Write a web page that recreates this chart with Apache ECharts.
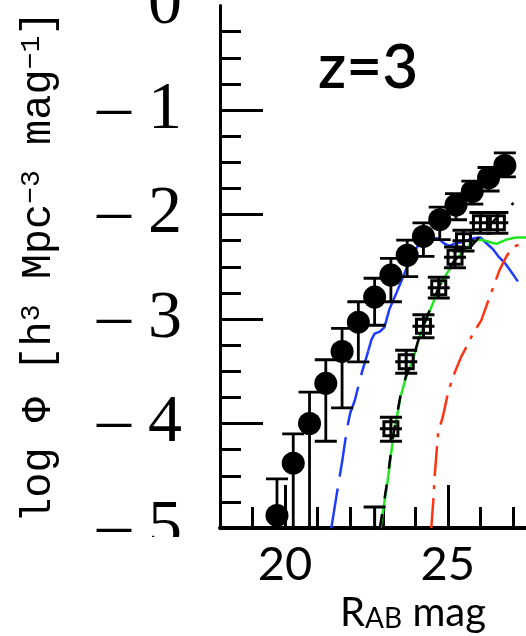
<!DOCTYPE html>
<html>
<head>
<meta charset="utf-8">
<script src="https://cdn.jsdelivr.net/npm/echarts@6.0.0/dist/echarts.min.js"></script>
<style>
  html, body { margin: 0; padding: 0; background: #fff; }
  #lf { width: 526px; height: 636px; }
</style>
</head>
<body>
<div id="lf"></div>
<script>
// 实心圆点：观测光度函数 (R 星等, log Φ, 误差上下限)
var circleMag = [19.75, 20.25, 20.75, 21.25, 21.75, 22.25, 22.75, 23.25, 23.75, 24.25, 24.75, 25.25, 25.75, 26.25, 26.75];
var circleLogPhi = [-4.88, -4.38, -4.00, -3.615, -3.31, -3.03, -2.79, -2.58, -2.39, -2.21, -2.05, -1.91, -1.78, -1.65, -1.53];
var circleErrHi = [-4.53, -4.10, -3.70, -3.39, -3.09, -2.835, -2.61, -2.42, -2.245, -2.08, -1.93, -1.80, -1.68, -1.55, -1.41];
var circleErrLo = [-5.6, -5.6, -5.6, -4.17, -3.85, -3.41, -3.06, -2.835, -2.595, -2.40, -2.24, -2.05, -1.90, -1.775, -1.64];

// 方块点
var squareMag = [22.75, 23.25, 23.72, 24.25, 24.72, 25.22, 25.48, 26.0, 26.52];
var squareLogPhi = [-5.3, -4.05, -3.41, -3.07, -2.70, -2.41, -2.25, -2.08, -2.08];
var squareErrHi = [-4.80, -3.94, -3.30, -2.96, -2.60, -2.31, -2.15, -1.98, -1.98];
var squareErrLo = [-5.8, -4.17, -3.52, -3.18, -2.80, -2.51, -2.35, -2.18, -2.18];

// 模型曲线 [R, log Φ]
var blueLow = [[21.42, -5.0], [21.6, -4.65], [21.76, -4.35], [21.9, -4.05], [22.0, -3.90], [22.14, -3.78], [22.35, -3.52], [22.55, -3.31]];
var blueHigh = [[22.55, -3.31], [22.65, -3.20], [22.75, -3.14], [22.91, -3.12], [23.05, -3.08], [23.2, -2.91], [23.42, -2.75], [23.62, -2.60], [23.83, -2.44], [24.13, -2.27], [24.44, -2.22], [24.7, -2.23], [24.9, -2.28], [25.05, -2.30], [25.21, -2.28], [25.46, -2.26], [25.77, -2.23], [26.0, -2.22], [26.2, -2.28], [26.38, -2.33], [26.55, -2.40], [26.74, -2.46], [26.95, -2.55], [27.15, -2.64]];
var greenLine = [[22.93, -5.0], [23.15, -4.55], [23.32, -4.13], [23.55, -3.74], [23.72, -3.55], [23.93, -3.39], [24.13, -3.17], [24.34, -3.0], [24.54, -2.85], [24.75, -2.68], [25.0, -2.55], [25.2, -2.44], [25.46, -2.36], [25.7, -2.28], [25.93, -2.24], [26.15, -2.25], [26.35, -2.27], [26.5, -2.28], [26.8, -2.24], [27.1, -2.22], [27.4, -2.22]];
var blackLine = [[22.91, -5.0], [23.14, -4.55], [23.31, -4.13], [23.54, -3.74], [23.71, -3.55], [23.92, -3.39], [24.12, -3.17], [24.33, -3.0], [24.53, -2.85], [24.74, -2.68], [24.99, -2.55], [25.2, -2.44], [25.45, -2.37], [25.67, -2.32], [25.98, -2.21], [26.44, -2.05], [27.02, -1.89]];
var redLine = [[24.49, -5.0], [24.55, -4.75], [24.6, -4.48], [24.7, -4.09], [24.85, -3.93], [25.0, -3.71], [25.16, -3.55], [25.41, -3.36], [25.6, -3.25], [25.77, -3.14], [26.03, -3.01], [26.28, -2.79], [26.59, -2.53], [26.8, -2.40], [27.0, -2.31], [27.26, -2.28], [27.4, -2.26]];

// 刻度
var yTickValues = [-5, -4, -3, -2, -1];
var xLabelValues = [20, 25];
var xMinorValues = [19, 20, 21, 22, 23, 24, 25, 26, 27];

var circleData = circleMag.map(function (m, i) {
    return [m, circleLogPhi[i], circleErrHi[i], circleErrLo[i]];
});
var squareData = squareMag.map(function (m, i) {
    return [m, squareLogPhi[i], squareErrHi[i], squareErrLo[i]];
});

var ink = { stroke: '#000', lineWidth: 2.8 };

// 误差棒
function renderErrorBar(params, api) {
    var top = api.coord([api.value(0), api.value(2)]);
    var bot = api.coord([api.value(0), api.value(3)]);
    var c = 11;
    return {
        type: 'group',
        children: [
            { type: 'line', shape: { x1: top[0], y1: top[1], x2: bot[0], y2: bot[1] }, style: ink },
            { type: 'line', shape: { x1: top[0] - c, y1: top[1], x2: top[0] + c, y2: top[1] }, style: ink },
            { type: 'line', shape: { x1: bot[0] - c, y1: bot[1], x2: bot[0] + c, y2: bot[1] }, style: ink }
        ]
    };
}

// 方块 + 十字 + 误差棒
function renderSquare(params, api) {
    var p = api.coord([api.value(0), api.value(1)]);
    var top = api.coord([api.value(0), api.value(2)]);
    var bot = api.coord([api.value(0), api.value(3)]);
    var h = 7, c = 11;
    var sq = { stroke: '#000', lineWidth: 3 };
    return {
        type: 'group',
        children: [
            { type: 'rect', shape: { x: p[0] - h, y: p[1] - h, width: 2 * h, height: 2 * h }, style: { stroke: '#000', lineWidth: 3, fill: 'none' } },
            { type: 'line', shape: { x1: p[0] - c, y1: p[1], x2: p[0] + c, y2: p[1] }, style: sq },
            { type: 'line', shape: { x1: top[0], y1: top[1], x2: bot[0], y2: bot[1] }, style: sq },
            { type: 'line', shape: { x1: top[0] - c, y1: top[1], x2: top[0] + c, y2: top[1] }, style: sq },
            { type: 'line', shape: { x1: bot[0] - c, y1: bot[1], x2: bot[0] + c, y2: bot[1] }, style: sq }
        ]
    };
}

function lineSeries(data, color, dash, z) {
    return {
        type: 'line',
        data: data,
        showSymbol: false,
        clip: true,
        z: z,
        lineStyle: { color: color, width: 2.5, type: dash }
    };
}

var myChart = echarts.init(document.getElementById('lf'));

var option = {
    animation: false,
    backgroundColor: '#fff',
    grid: { left: 220, right: 0, top: 5.5, bottom: 108, outerBoundsMode: 'none' },
    xAxis: [{
        type: 'value',
        min: 18,
        max: 27.4,
        interval: 1,
        position: 'bottom',
        splitLine: { show: false },
        axisLine: { show: true, onZero: false, lineStyle: { color: '#000', width: 4 } },
        axisTick: { show: true, inside: true, length: 43, customValues: xLabelValues, lineStyle: { color: '#000', width: 3 } },
        axisLabel: { customValues: xLabelValues, margin: 13, color: '#000', fontFamily: 'Lato', fontSize: 47 },
        name: 'R{sub|AB} mag',
        nameLocation: 'middle',
        nameGap: 56,
        nameTextStyle: {
            color: '#000', fontFamily: 'Lato', fontSize: 40, padding: [0, 0, 0, 80],
            rich: { sub: { fontFamily: 'Lato', fontSize: 28, verticalAlign: 'bottom', color: '#000' } }
        }
    }, {
        type: 'value',
        min: 18,
        max: 27.4,
        interval: 1,
        position: 'bottom',
        gridIndex: 0,
        splitLine: { show: false },
        axisLine: { show: false, onZero: false },
        axisTick: { show: true, inside: true, length: 21, customValues: xMinorValues, lineStyle: { color: '#000', width: 3 } },
        axisLabel: { show: false }
    }],
    yAxis: {
        type: 'value',
        min: -5,
        max: 0,
        interval: 1,
        splitLine: { show: false },
        axisLine: { show: true, onZero: false, lineStyle: { color: '#000', width: 3 } },
        axisTick: { show: true, inside: true, length: 43, customValues: yTickValues, lineStyle: { color: '#000', width: 3 } },
        minorTick: { show: true, splitNumber: 4, length: 21, lineStyle: { color: '#000', width: 3 } },
        axisLabel: {
            margin: 38,
            color: '#000',
            fontFamily: 'Liberation Serif',
            fontSize: 68,
            formatter: function (v) { return v === 0 ? '0' : '\u2013 ' + Math.abs(v); }
        },
        name: 'log \u03a6 [h{s|3} Mpc{s|\u22123} mag{s|\u22121}]',
        nameLocation: 'middle',
        nameRotate: 90,
        nameGap: 160,
        nameTextStyle: {
            color: '#000', fontFamily: 'Liberation Mono', fontSize: 42,
            rich: { s: { fontFamily: 'Liberation Mono', fontSize: 28, verticalAlign: 'top', color: '#000' } }
        }
    },
    graphic: [
        { type: 'text', x: 318, y: 68, z: 10, style: { text: 'z=3', fill: '#000', font: '600 62px Lato', verticalAlign: 'middle' } },
        // 底部被裁掉的 "5"
        { type: 'rect', z: 10, shape: { x: 80, y: 537, width: 135, height: 30 }, style: { fill: '#fff' } }
    ],
    series: [
        lineSeries(blueLow, '#1e3cff', [40, 12], 2),
        lineSeries(blueHigh, '#1e3cff', 'solid', 2),
        lineSeries(greenLine, '#22e622', 'solid', 2),
        lineSeries(blackLine, '#000', [14, 16], 3),
        lineSeries(redLine, '#ff3311', [30, 9, 4, 9], 2),
        {
            type: 'custom',
            renderItem: renderSquare,
            data: squareData,
            encode: { x: 0, y: [1, 2, 3] },
            clip: true,
            z: 4
        },
        {
            type: 'custom',
            renderItem: renderErrorBar,
            data: circleData,
            encode: { x: 0, y: [1, 2, 3] },
            clip: true,
            z: 5
        },
        {
            type: 'scatter',
            data: circleData.map(function (d) { return [d[0], d[1]]; }),
            symbol: 'circle',
            symbolSize: 23,
            itemStyle: { color: '#000', opacity: 1 },
            clip: true,
            z: 6
        }
    ]
};

myChart.setOption(option);
</script>
</body>
</html>
